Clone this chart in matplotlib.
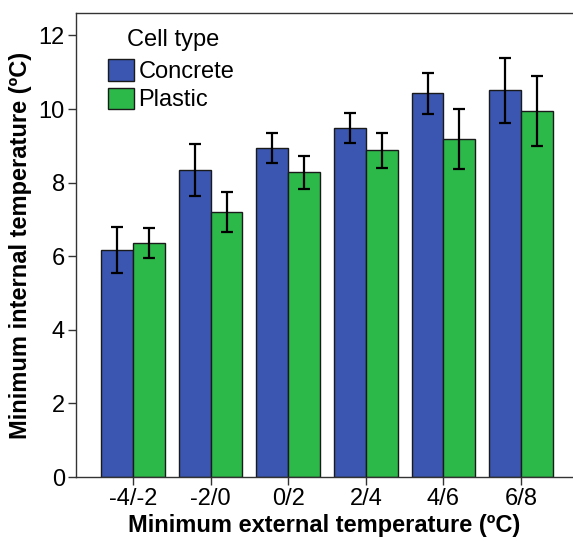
import matplotlib

matplotlib.use("Agg")
import matplotlib.pyplot as plt
import numpy as np

plt.rcParams.update({"font.family": ["Liberation Sans", "DejaVu Sans"], "font.size": 17})

# values
groups = ["-4/-2", "-2/0", "0/2", "2/4", "4/6", "6/8"]
concrete = [6.17, 8.34, 8.94, 9.48, 10.43, 10.51]
concrete_err = [0.63, 0.71, 0.42, 0.41, 0.56, 0.88]
plastic = [6.37, 7.20, 8.28, 8.88, 9.19, 9.95]
plastic_err = [0.41, 0.55, 0.45, 0.48, 0.82, 0.95]
yticks = [0, 2, 4, 6, 8, 10, 12]

BLUE = "#3a56b0"
GREEN = "#2db84a"

fig = plt.figure(figsize=(5.73, 5.41), dpi=100)
ax = fig.add_axes([76 / 573, 1 - 477 / 541, 1 - 76 / 573, (477 - 13) / 541])

x = np.arange(len(groups))
w = 0.41
err_kw = dict(ecolor="black", elinewidth=1.6, capsize=4, capthick=1.6)
ax.bar(x - w / 2, concrete, w, yerr=concrete_err, color=BLUE, edgecolor="#1a1a1a",
       linewidth=1.0, error_kw=err_kw, label="Concrete")
ax.bar(x + w / 2, plastic, w, yerr=plastic_err, color=GREEN, edgecolor="#1a1a1a",
       linewidth=1.0, error_kw=err_kw, label="Plastic")

ax.set_xlim(-0.735, 5.67)
ax.set_ylim(0, 12.61)
ax.set_xticks(x)
ax.set_xticklabels(groups)
ax.set_yticks(yticks)
ax.tick_params(axis="both", direction="out", length=6, width=1, color="#333333", pad=2)
ax.spines["right"].set_visible(False)
for s in ["left", "bottom", "top"]:
    ax.spines[s].set_color("#333333")
    ax.spines[s].set_linewidth(1.0)

ax.set_xlabel("Minimum external temperature (ºC)", fontweight="bold", labelpad=3)
ax.set_ylabel("Minimum internal temperature (ºC)", fontweight="bold", labelpad=5)

ax.text(0.1026, 0.942, "Cell type", transform=ax.transAxes, ha="left", va="center")
ax.legend(loc="upper left", bbox_to_anchor=(0.065, 0.90), frameon=False, borderpad=0,
          handlelength=1.07, handleheight=1.0, handletextpad=0.2, labelspacing=0.2,
          borderaxespad=0)

fig.savefig("out.png", dpi=100)
